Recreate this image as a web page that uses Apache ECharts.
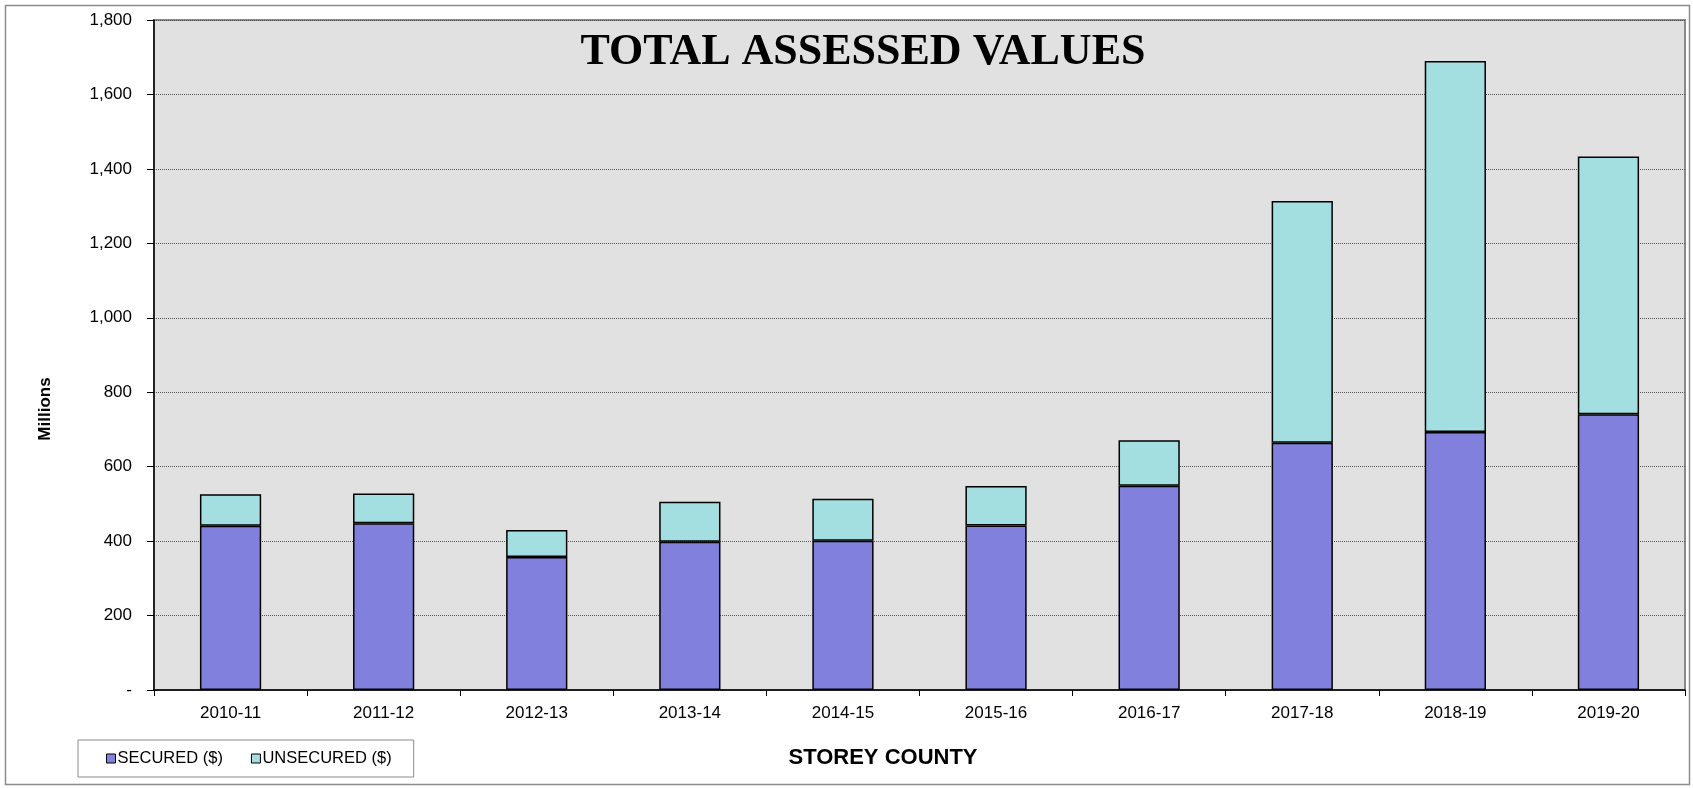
<!DOCTYPE html>
<html>
<head>
<meta charset="utf-8">
<title>Total Assessed Values</title>
<script src="https://cdn.jsdelivr.net/npm/echarts@6/dist/echarts.min.js"></script>
<style>
  html, body { margin: 0; padding: 0; background: #fff; }
  #chart { width: 1693px; height: 788px; }
</style>
</head>
<body>
<div id="chart"></div>
<script>
// fiscal years
var years = ["2010-11", "2011-12", "2012-13", "2013-14", "2014-15",
             "2015-16", "2016-17", "2017-18", "2018-19", "2019-20"];
// millions of dollars
var secured = [441, 448, 357, 398, 401, 442, 549, 664, 693, 741];
var unsecured = [85, 80, 73, 108, 113, 106, 122, 650, 997, 692];

var yMin = 0, yMax = 1800, yStep = 200;

var myChart = echarts.init(document.getElementById("chart"));

var option = {
  animation: false,
  textStyle: { fontFamily: "Liberation Sans, Arial, sans-serif" },
  graphic: [
    {
      // outer chart frame
      type: "rect",
      shape: { x: 5.5, y: 5.5, width: 1684, height: 779 },
      style: { fill: null, stroke: "#8c8c8c", lineWidth: 1.5 },
      z: -1
    },
    {
      type: "text",
      x: 863,
      y: 53,
      style: {
        text: "TOTAL ASSESSED VALUES",
        font: "bold 44px 'Liberation Serif', 'Times New Roman', serif",
        fill: "#000",
        textAlign: "center",
        textVerticalAlign: "middle"
      },
      z: 10
    }
  ],
  grid: {
    left: 154,
    right: 8,
    top: 20,
    bottom: 98,
    show: true,
    backgroundColor: "#e1e1e1",
    borderColor: "#8a8a8a",
    borderWidth: 2
  },
  legend: {
    left: 78,
    top: 740,
    orient: "horizontal",
    backgroundColor: "#fff",
    borderColor: "#8c8c8c",
    borderWidth: 1,
    padding: [10, 22, 10, 28],
    itemGap: 28,
    itemWidth: 9,
    itemHeight: 9,
    icon: "rect",
    textStyle: { fontSize: 16.5, color: "#000", padding: [0, 0, 0, -3] },
    data: [
      { name: "SECURED ($)", itemStyle: { borderColor: "#000", borderWidth: 1 } },
      { name: "UNSECURED ($)", itemStyle: { borderColor: "#000", borderWidth: 1 } }
    ]
  },
  xAxis: {
    type: "category",
    data: years,
    name: "STOREY COUNTY",
    nameLocation: "middle",
    nameGap: 57,
    nameTextStyle: { fontSize: 22, fontWeight: "bold", color: "#000", padding: [0, 73, 0, 0] },
    axisLine: { lineStyle: { color: "#000", width: 1.5 } },
    axisTick: { show: true, length: 6, lineStyle: { color: "#000" } },
    axisLabel: { fontSize: 17, color: "#000", margin: 15 }
  },
  yAxis: {
    type: "value",
    min: yMin,
    max: yMax,
    interval: yStep,
    name: "Millions",
    nameLocation: "middle",
    nameRotate: 90,
    nameGap: 100,
    nameTextStyle: { fontSize: 17, fontWeight: "bold", color: "#000", padding: [0, 108, 0, 0] },
    axisLine: { show: true, lineStyle: { color: "#000", width: 1.5 } },
    axisTick: { show: true, length: 7, lineStyle: { color: "#000" } },
    axisLabel: {
      fontSize: 17,
      color: "#000",
      margin: 22,
      formatter: function (v) {
        return v === 0 ? "-" : v.toLocaleString("en-US");
      }
    },
    splitLine: { show: true, lineStyle: { color: "#555", type: "dotted", width: 1 } }
  },
  series: [
    {
      name: "SECURED ($)",
      type: "bar",
      stack: "total",
      barWidth: "40%",
      data: secured,
      itemStyle: { color: "#8181dd", borderColor: "#000", borderWidth: 1.5 }
    },
    {
      name: "UNSECURED ($)",
      type: "bar",
      stack: "total",
      barWidth: "40%",
      data: unsecured,
      itemStyle: { color: "#a3dfe0", borderColor: "#000", borderWidth: 1.5 }
    }
  ]
};

myChart.setOption(option);
</script>
</body>
</html>
